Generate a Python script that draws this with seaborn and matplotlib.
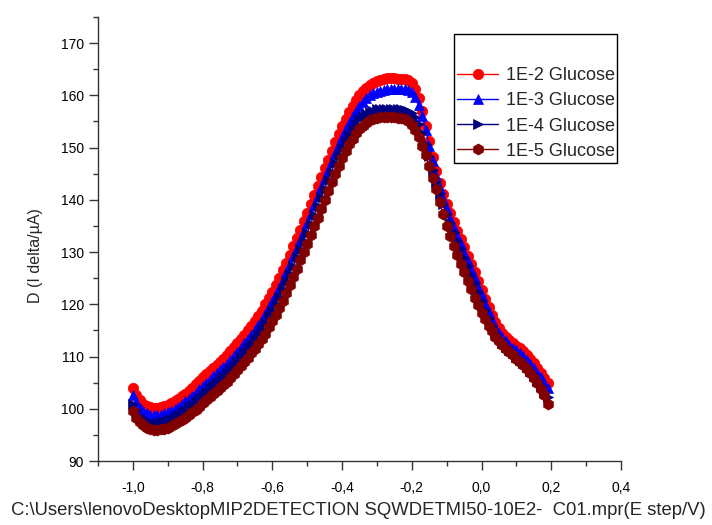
import numpy as np
import pandas as pd
import matplotlib
matplotlib.use("Agg")
import matplotlib.pyplot as plt
from matplotlib.ticker import MultipleLocator, FixedLocator, FixedFormatter
import seaborn as sns

# ---------------- data ----------------
potential = [round(-1.00 + 0.01 * i, 2) for i in range(120)]

glucose_1e2 = [
    104.0, 102.6, 101.6, 100.9, 100.5, 100.3, 100.2, 100.2, 100.3, 100.5,
    100.8, 101.1, 101.5, 101.9, 102.4, 102.9, 103.4, 103.9, 104.7, 105.3,
    106.0, 106.6, 107.2, 107.8, 108.4, 109.0, 109.6, 110.3, 111.0, 111.8,
    112.6, 113.4, 114.2, 115.0, 115.9, 116.8, 117.8, 118.8, 120.0, 121.2,
    122.4, 123.7, 125.0, 126.5, 128.0, 129.5, 131.1, 132.7, 134.3, 135.9,
    137.5, 139.2, 140.9, 142.6, 144.3, 146.0, 147.7, 149.4, 151.0, 152.6,
    154.1, 155.5, 156.8, 158.0, 159.1, 160.0, 160.8, 161.5, 162.0, 162.4,
    162.7, 163.0, 163.2, 163.3, 163.3, 163.3, 163.2, 163.2, 163.2, 163.0,
    162.4, 161.2, 159.4, 157.0, 154.2, 151.2, 148.2, 145.5, 143.2, 141.1,
    139.2, 137.4, 135.7, 134.1, 132.5, 130.9, 129.3, 127.7, 126.1, 124.4,
    122.7, 121.0, 119.4, 117.9, 116.6, 115.5, 114.6, 113.8, 113.2, 112.6,
    112.1, 111.6, 111.0, 110.3, 109.5, 108.7, 107.8, 106.9, 105.9, 104.9,
]

glucose_1e3 = [
    102.6, 101.2, 100.2, 99.5, 99.1, 98.9, 98.8, 98.8, 98.9, 99.1,
    99.3, 99.6, 100.0, 100.4, 100.9, 101.4, 101.9, 102.4, 103.1, 103.7,
    104.4, 105.0, 105.6, 106.2, 106.8, 107.4, 108.0, 108.6, 109.3, 110.1,
    110.9, 111.7, 112.5, 113.3, 114.2, 115.1, 116.0, 117.0, 118.2, 119.4,
    120.6, 121.9, 123.2, 124.7, 126.2, 127.7, 129.2, 130.8, 132.4, 134.0,
    135.6, 137.3, 139.0, 140.7, 142.4, 144.1, 145.7, 147.4, 149.0, 150.6,
    152.1, 153.5, 154.8, 156.0, 157.1, 158.0, 158.8, 159.5, 160.0, 160.4,
    160.7, 160.9, 161.1, 161.2, 161.3, 161.3, 161.2, 161.2, 161.2, 161.0,
    160.6, 159.7, 158.2, 156.1, 153.4, 150.4, 147.4, 144.6, 142.2, 140.1,
    138.2, 136.4, 134.7, 133.1, 131.5, 129.9, 128.3, 126.7, 125.1, 123.4,
    121.8, 120.1, 118.5, 117.0, 115.7, 114.6, 113.7, 112.9, 112.3, 111.7,
    111.2, 110.7, 110.1, 109.4, 108.6, 107.8, 106.9, 106.0, 105.0, 104.0,
]

glucose_1e4 = [
    101.0, 99.7, 98.7, 98.0, 97.6, 97.4, 97.3, 97.3, 97.4, 97.6,
    97.8, 98.1, 98.5, 98.9, 99.3, 99.8, 100.3, 100.8, 101.4, 102.0,
    102.7, 103.3, 103.9, 104.5, 105.1, 105.7, 106.3, 106.9, 107.6, 108.4,
    109.2, 110.0, 110.8, 111.6, 112.4, 113.3, 114.3, 115.3, 116.5, 117.7,
    118.8, 120.1, 121.4, 122.9, 124.4, 125.8, 127.4, 129.0, 130.6, 132.2,
    133.7, 135.4, 137.1, 138.8, 140.5, 142.1, 143.8, 145.4, 147.0, 148.5,
    150.0, 151.3, 152.5, 153.6, 154.6, 155.4, 156.0, 156.5, 156.9, 157.1,
    157.3, 157.4, 157.4, 157.4, 157.4, 157.4, 157.3, 157.3, 157.2, 157.0,
    156.6, 155.8, 154.5, 152.7, 150.6, 148.3, 145.8, 143.4, 141.2, 139.2,
    137.3, 135.5, 133.8, 132.1, 130.5, 128.9, 127.3, 125.7, 124.1, 122.4,
    120.7, 119.0, 117.4, 115.9, 114.6, 113.5, 112.6, 111.8, 111.2, 110.6,
    110.0, 109.4, 108.8, 108.0, 107.2, 106.3, 105.3, 104.3, 103.3, 102.2,
]

glucose_1e5 = [
    99.5, 98.3, 97.4, 96.8, 96.4, 96.1, 96.0, 96.0, 96.1, 96.2,
    96.4, 96.7, 97.0, 97.4, 97.8, 98.3, 98.8, 99.3, 99.8, 100.4,
    101.1, 101.6, 102.2, 102.8, 103.4, 104.0, 104.6, 105.2, 105.9, 106.6,
    107.4, 108.2, 109.0, 109.8, 110.6, 111.5, 112.4, 113.3, 114.4, 115.6,
    116.8, 118.0, 119.3, 120.7, 122.2, 123.7, 125.2, 126.8, 128.4, 130.0,
    131.6, 133.2, 134.9, 136.6, 138.3, 140.0, 141.7, 143.4, 145.0, 146.5,
    148.0, 149.4, 150.6, 151.7, 152.7, 153.5, 154.2, 154.8, 155.2, 155.5,
    155.7, 155.8, 155.8, 155.8, 155.8, 155.8, 155.7, 155.6, 155.4, 155.0,
    154.3, 153.3, 152.0, 150.4, 148.5, 146.4, 144.2, 142.0, 139.6, 137.2,
    135.0, 133.1, 131.2, 129.4, 127.7, 126.1, 124.5, 122.9, 121.3, 119.8,
    118.4, 117.1, 115.9, 114.8, 113.8, 112.9, 112.2, 111.5, 110.8, 110.2,
    109.6, 109.0, 108.3, 107.6, 106.8, 105.9, 104.9, 103.8, 102.6, 101.0,
]

series_names = ["1E-2 Glucose", "1E-3 Glucose", "1E-4 Glucose", "1E-5 Glucose"]
series_values = [glucose_1e2, glucose_1e3, glucose_1e4, glucose_1e5]

x_tick_values = [-1.0, -0.8, -0.6, -0.4, -0.2, 0.0, 0.2, 0.4]
x_tick_labels = ["-1,0", "-0,8", "-0,6", "-0,4", "-0,2", "0,0", "0,2", "0,4"]
y_tick_values = [90, 100, 110, 120, 130, 140, 150, 160, 170]

x_label = "C:\\Users\\lenovoDesktopMIP2DETECTION SQWDETMI50-10E2-  C01.mpr(E step/V)"
y_label = "D (I delta/\u00b5A)"

# ---------------- style ----------------
sns.set_style("ticks")
plt.rcParams["font.family"] = ["Liberation Sans", "DejaVu Sans"]

colors = ["#ff0000", "#0000ff", "#000080", "#800000"]
markers = ["o", "^", ">", "h"]
msizes = [7.5, 7.5, 6.5, 8.0]

df = pd.DataFrame({
    "E": np.tile(potential, len(series_names)),
    "I": np.concatenate(series_values),
    "series": np.repeat(series_names, len(potential)),
})

fig = plt.figure(figsize=(7.12, 5.25), dpi=100)
ax = fig.add_axes([0.1376, 0.1219, 0.7346, 0.8457])

for name, c, m, ms in zip(series_names, colors, markers, msizes):
    sub = df[df["series"] == name]
    sns.lineplot(data=sub, x="E", y="I", ax=ax, color=c, marker=m,
                 markersize=ms, markeredgecolor=c, markeredgewidth=0.5,
                 linewidth=1.0, label=name, sort=False)

ax.set_xlim(-1.1, 0.4)
ax.set_ylim(90, 175)

ax.xaxis.set_major_locator(FixedLocator(x_tick_values))
ax.xaxis.set_major_formatter(FixedFormatter(x_tick_labels))
ax.xaxis.set_minor_locator(MultipleLocator(0.1))
ax.yaxis.set_major_locator(FixedLocator(y_tick_values))
ax.yaxis.set_minor_locator(MultipleLocator(5))

ax.tick_params(axis="both", which="major", direction="out", length=6.5,
               width=1.0, labelsize=10, colors="#333333", labelcolor="black")
ax.tick_params(axis="x", which="major", pad=8)
ax.tick_params(axis="both", which="minor", direction="out", length=3.5,
               width=1.0, colors="#333333")

for s in ["top", "right"]:
    ax.spines[s].set_visible(False)
for s in ["left", "bottom"]:
    ax.spines[s].set_color("#333333")
    ax.spines[s].set_linewidth(1.0)

ax.set_xlabel(x_label, fontsize=13.3)
ax.xaxis.set_label_coords(0.497, -0.0923)
ax.set_ylabel(y_label, fontsize=11.5)
ax.yaxis.set_label_coords(-0.105, 0.462)

leg = ax.legend(loc="upper left", bbox_to_anchor=(0.681, 0.962),
                frameon=True, fancybox=False, framealpha=1, edgecolor="black",
                fontsize=13, title=" ", title_fontsize=17.5,
                handlelength=2.3, handletextpad=0.4, labelspacing=0.46,
                borderpad=0.15, borderaxespad=0)
leg.get_frame().set_linewidth(1.0)

fig.savefig("out.png", dpi=100)
